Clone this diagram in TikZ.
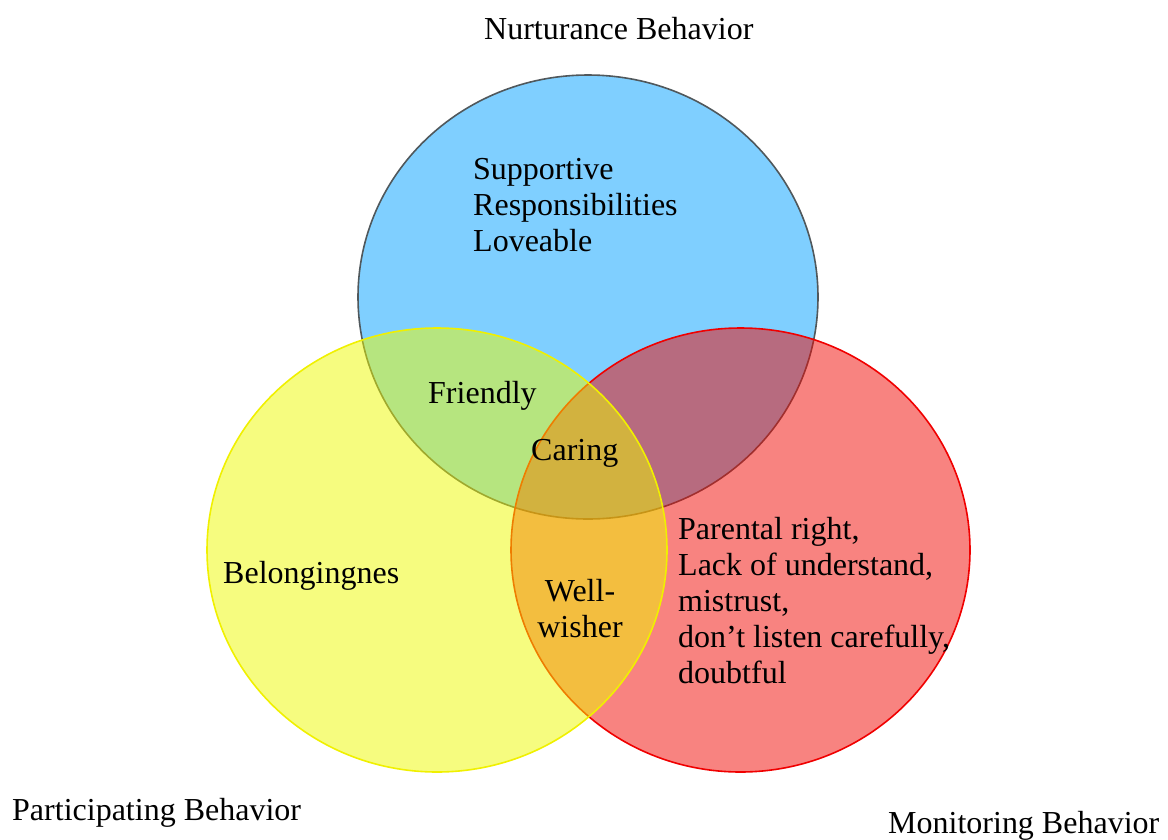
\documentclass[tikz,border=0pt]{standalone}
\usepackage{fontspec}
\setmainfont{Liberation Serif}
\definecolor{setblue}{RGB}{0,160,255}
\definecolor{setred}{RGB}{241,7,1}
\definecolor{setyellow}{RGB}{238,250,0}
\definecolor{blueedge}{RGB}{80,88,92}
\definecolor{rededge}{RGB}{240,0,0}
\definecolor{yellowedge}{RGB}{240,240,0}
\tikzset{
  setfill/.style={fill opacity=0.5, line width=1.6pt},
  label/.style={inner sep=0pt, font=\fontsize{32}{36}\selectfont},
  title/.style={label},
  block/.style={label, align=left}
}
\begin{document}
\begin{tikzpicture}[x=1pt,y=-1pt]
\useasboundingbox (0,0) rectangle (1168,839);
% the three sets, drawn blue, red, yellow
\filldraw[setfill, fill=setblue, draw=blueedge] (588,297) ellipse [x radius=230pt, y radius=222pt];
\filldraw[setfill, fill=setred, draw=rededge] (740.5,550) ellipse [x radius=229.5pt, y radius=222pt];
\filldraw[setfill, fill=setyellow, draw=yellowedge] (437,550) ellipse [x radius=230pt, y radius=222pt];

% set titles
\node[title, anchor=base west] (nurt) at (484,39) {Nurturance Behavior};
\node[title, anchor=base west] (part) at (12,820) {Participating Behavior};
\node[title, anchor=base west] (moni) at (888,833) {Monitoring Behavior};

% region contents (base anchor of a block is its last line)
\node[block, anchor=base west] (nurtonly) at (473,251) {Supportive\\Responsibilities\\Loveable};
\node[label, anchor=base west] (friendly) at (428,403) {Friendly};
\node[label, anchor=base west] (caring) at (531,460) {Caring};
\node[label, anchor=base west] (belong) at (223,583) {Belongingnes};
\node[label, align=center, anchor=base] (well) at (580,637) {Well-\\wisher};
\node[block, anchor=base west] (moninly) at (678,683) {Parental right,\\Lack of understand,\\mistrust,\\don’t listen carefully,\\doubtful};
\end{tikzpicture}
\end{document}
